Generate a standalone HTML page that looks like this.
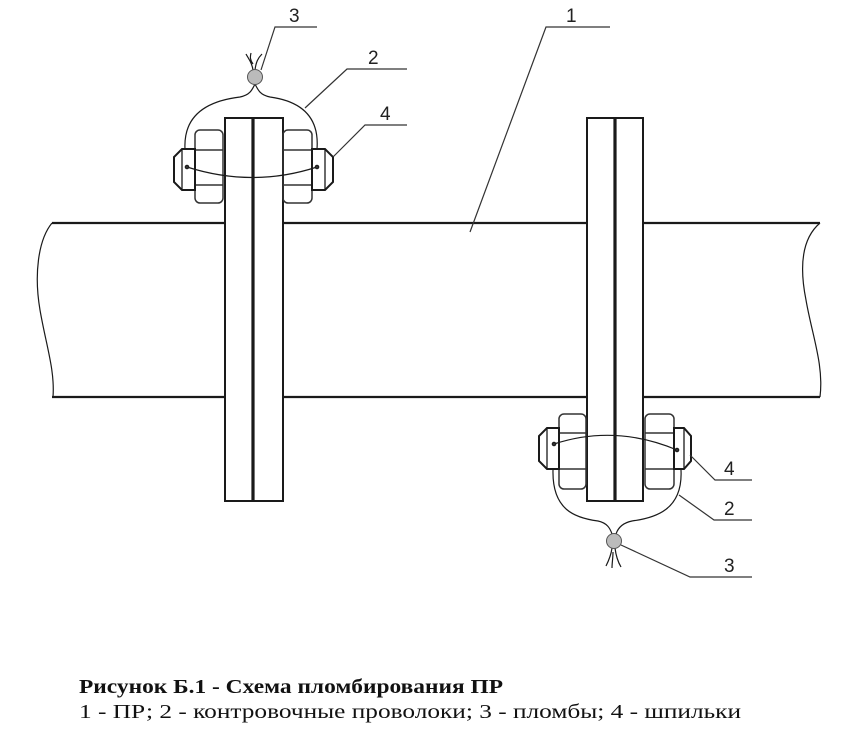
<!DOCTYPE html>
<html><head><meta charset="utf-8"><style>
html,body{margin:0;padding:0;background:#fff;}
svg{display:block;}
</style></head><body>
<svg width="861" height="743" viewBox="0 0 861 743" xmlns="http://www.w3.org/2000/svg">
<rect width="861" height="743" fill="#fff"/>
<g fill="none" stroke="#1a1a1a">
<line x1="52" y1="223" x2="225" y2="223" stroke-width="2.2"/>
<line x1="283" y1="223" x2="587" y2="223" stroke-width="2.2"/>
<line x1="643" y1="223" x2="820" y2="223" stroke-width="2.2"/>
<line x1="52" y1="397" x2="225" y2="397" stroke-width="2.2"/>
<line x1="283" y1="397" x2="587" y2="397" stroke-width="2.2"/>
<line x1="643" y1="397" x2="820" y2="397" stroke-width="2.2"/>
<path d="M52,223 C38,240 34,275 40,310 C46,345 55,370 53,397" stroke-width="1.2"/>
<path d="M820,223 C800,240 800,270 806,300 C812,335 824,365 820,397" stroke-width="1.2"/>
<rect x="225" y="118" width="58" height="383" stroke-width="2"/>
<line x1="253" y1="118" x2="253" y2="501" stroke-width="3.2"/>
<rect x="587" y="118" width="56" height="383" stroke-width="2"/>
<line x1="615" y1="118" x2="615" y2="501" stroke-width="3.2"/>

<g stroke-width="1.5" stroke="#333">
<rect x="195" y="130" width="28" height="73" rx="5"/>
<line x1="195" y1="150" x2="223" y2="150"/><line x1="195" y1="185" x2="223" y2="185"/>
<rect x="283" y="130" width="29" height="73" rx="5"/>
<line x1="283" y1="150" x2="312" y2="150"/><line x1="283" y1="185" x2="312" y2="185"/>
</g>
<g stroke-width="2">
<path d="M195,149 H182 L174,157 V182 L182,190 H195 Z"/>
<line x1="182" y1="149" x2="182" y2="190" stroke-width="1.3"/>
<path d="M312,149 H325 L333,157 V182 L325,190 H312 Z"/>
<line x1="325" y1="149" x2="325" y2="190" stroke-width="1.3"/>
</g>
<g stroke-width="1.2">
<path d="M187,167 Q253,188 317,167"/>
<path d="M185,149 C183,110 215,100 240,97 C250,95 252,90 255,84"/>
<path d="M317,149 C320,110 292,100 270,97 C260,95 258,90 255,84"/>
<path d="M253,70 C252,62 248,58 246,54 M255,70 C256,62 258,58 262,54 M253,64 C250,60 250,57 251,53"/>
</g>
<circle cx="187" cy="167" r="1.8" fill="#333"/><circle cx="317" cy="167" r="1.8" fill="#333"/>
<circle cx="255" cy="77" r="7.5" fill="#bbb" stroke="#555" stroke-width="1"/>

<g stroke-width="1.5" stroke="#333">
<rect x="559" y="414" width="27" height="75" rx="5"/>
<line x1="559" y1="433" x2="586" y2="433"/><line x1="559" y1="469" x2="586" y2="469"/>
<rect x="645" y="414" width="29" height="75" rx="5"/>
<line x1="645" y1="433" x2="674" y2="433"/><line x1="645" y1="469" x2="674" y2="469"/>
</g>
<g stroke-width="2">
<path d="M559,428 H547 L539,436 V461 L547,469 H559 Z"/>
<line x1="547" y1="428" x2="547" y2="469" stroke-width="1.3"/>
<path d="M674,428 H684 L691,436 V461 L684,469 H674 Z"/>
<line x1="684" y1="428" x2="684" y2="469" stroke-width="1.3"/>
</g>
<g stroke-width="1.2">
<path d="M554,444 Q615,424 677,450"/>
<path d="M553,470 C552,510 575,518 598,521 C607,523 610,528 612,534"/>
<path d="M681,470 C683,510 655,518 632,521 C622,523 618,528 616,534"/>
<path d="M612,548 C611,556 608,562 606,566 M615,548 C616,556 618,562 621,567 M613,552 C613,558 612,563 612,568"/>
</g>
<circle cx="554" cy="444" r="1.8" fill="#333"/><circle cx="677" cy="450" r="1.8" fill="#333"/>
<circle cx="614" cy="541" r="7.5" fill="#bbb" stroke="#555" stroke-width="1"/>

<g stroke="#333" stroke-width="1.2">
<polyline points="470,232 546,27 610,27"/>
<polyline points="261,70 275,27 317,27"/>
<polyline points="305,108 347,69 407,69"/>
<polyline points="333,157 365,125 407,125"/>
<polyline points="690,455 715,480 752,480"/>
<polyline points="679,495 714,520 752,520"/>
<polyline points="621,545 690,577 752,577"/>
</g>
</g>
<g font-family="Liberation Sans, sans-serif" font-size="19" fill="#222">
<text x="566" y="22">1</text>
<text x="289" y="22">3</text>
<text x="368" y="64">2</text>
<text x="380" y="120">4</text>
<text x="724" y="475">4</text>
<text x="724" y="515">2</text>
<text x="724" y="572">3</text>
</g>
<g font-family="Liberation Serif, serif" font-size="20" fill="#111">
<text x="79" y="693" font-weight="bold" textLength="424" lengthAdjust="spacingAndGlyphs">Рисунок Б.1 - Схема пломбирования  ПР</text>
<text x="79" y="718" textLength="662" lengthAdjust="spacingAndGlyphs">1 -  ПР;  2 - контровочные проволоки; 3 - пломбы; 4 - шпильки</text>
</g>
</svg>
</body></html>
